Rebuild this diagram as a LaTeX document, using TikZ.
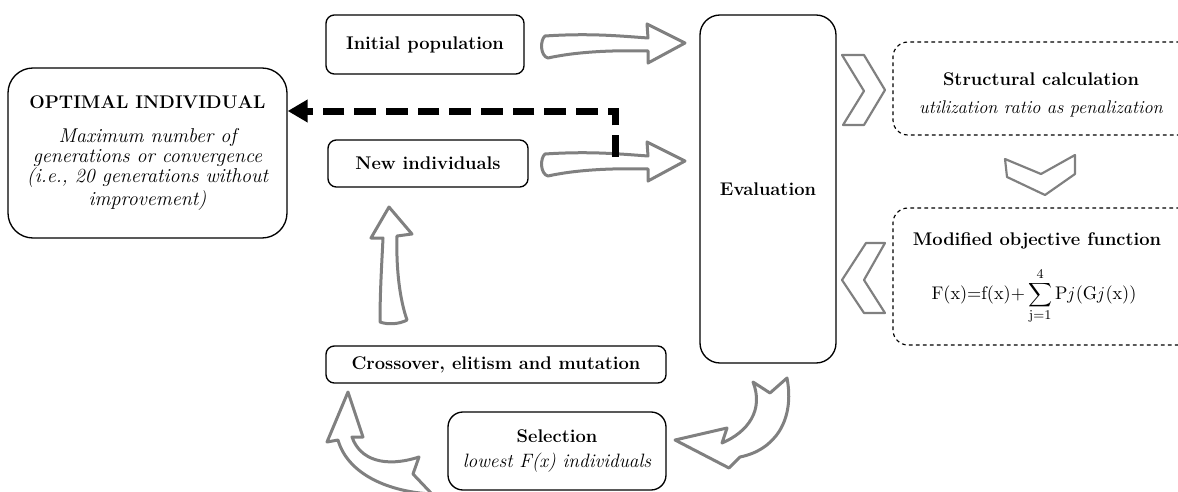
\documentclass[tikz,border=0pt]{standalone}
\usetikzlibrary{arrows.meta}
\definecolor{arrowgray}{RGB}{128,128,128}
\newcommand\optit{\fontsize{12}{11.6}\selectfont\itshape}
\newcommand\selit{\fontsize{11.6}{12}\selectfont\itshape}
\begin{document}
\begin{tikzpicture}[x=0.6pt,y=-0.6pt,
  box/.style={draw, line width=0.8pt, align=center, inner sep=0pt,
    font=\fontsize{11}{11.5}\selectfont},
  dbox/.style={draw, line width=0.7pt, dash pattern=on 2.2pt off 2pt, rounded corners=9pt, inner sep=0pt},
  txt/.style={align=center, inner sep=0pt, font=\fontsize{11}{11.5}\selectfont},
  blockarrow/.style={draw=arrowgray, line width=1.8pt, fill=white, line join=round},
  chevron/.style={draw=arrowgray, line width=1.3pt, fill=white, line join=round},
  feedback/.style={line width=4.2pt, dash pattern=on 13pt off 6pt, -{Triangle[length=12pt,width=13pt]}}
]
\useasboundingbox (0,0) rectangle (1178,492);
\clip (0,0) rectangle (1178,492);

% boxes
\node[box, rounded corners=15pt, minimum width=167.4pt, minimum height=102pt] (opt) at (147.5,153)
  {\textbf{OPTIMAL INDIVIDUAL}\\[9pt]\optit Maximum number of\\[0.6pt] \optit generations or convergence\\[0.6pt] \optit (i.e., 20 generations without\\[0.6pt] \optit improvement)};
\node[box, rounded corners=5pt, minimum width=118.8pt, minimum height=35.4pt] (init) at (425,44.5) {\textbf{Initial population}};
\node[box, rounded corners=5pt, minimum width=120pt, minimum height=28.2pt] (newind) at (428,163.5) {\textbf{New individuals}};
\node[box, rounded corners=5pt, minimum width=204pt, minimum height=22.2pt] (cross) at (496,364.5) {\textbf{Crossover, elitism and mutation}};
\node[box, rounded corners=9pt, minimum width=130.8pt, minimum height=46.8pt] (sel) at (557,451) {\textbf{Selection}\\[3pt]\selit lowest F(x) individuals};
\node[box, rounded corners=12pt, minimum width=81.6pt, minimum height=208.8pt] (eval) at (768,189) {\textbf{Evaluation}};
\node[dbox, minimum width=181.2pt, minimum height=55.8pt] (struct) at (1044,88.5) {};
\node[txt] (structtxt) at (1041,95) {\textbf{Structural calculation}\\[5pt]\itshape utilization ratio as penalization};
\node[dbox, minimum width=181.2pt, minimum height=82.2pt] (mod) at (1044,276.5) {};
\node[txt] (modtitle) at (1037,241) {\textbf{Modified objective function}};
\node[txt] (modformula) at (1034,296) {$\displaystyle \mathrm{F(x)}{=}\mathrm{f(x)}{+}\sum_{\mathrm{j}=1}^{4}\mathrm{P}\mathit{j}(\mathrm{G}\mathit{j}(\mathrm{x}))$};

% block arrows
\draw[blockarrow] (545,36) .. controls (590,33) and (620,36) .. (648,38) -- (647,24) -- (685,43) -- (648,63) -- (648,51)
  .. controls (610,50) and (575,52) .. (548,58) .. controls (540,56) and (540,40) .. cycle;
\draw[blockarrow, yshift=-118*0.6pt] (545,36) .. controls (590,33) and (620,36) .. (648,38) -- (647,24) -- (685,43) -- (648,63) -- (648,51)
  .. controls (610,50) and (575,52) .. (548,58) .. controls (540,56) and (540,40) .. cycle;
% up arrow
\draw[blockarrow] (389,207) -- (412,234) -- (397,236) .. controls (396,270) and (400,300) .. (407,320)
  .. controls (400,324) and (388,325) .. (380,322) .. controls (380,290) and (382,260) .. (383,238) -- (371,238) -- cycle;
% eval -> selection
\draw[blockarrow] (675,440) -- (727,428) -- (722,443) .. controls (748,432) and (764,410) .. (753,382)
  -- (770,393) -- (787,378) .. controls (795,420) and (775,450) .. (740,457) -- (729,468) -- cycle;
% selection -> crossover
\draw[blockarrow] (348,392) -- (363,437) -- (352,437) .. controls (360,460) and (385,468) .. (419,457)
  -- (413,474) -- (432,494) .. controls (390,492) and (348,475) .. (338,440) -- (327,442) -- cycle;

% chevrons
\draw[chevron] (842,55) -- (864,55) -- (885,90) -- (864,125) -- (843,125) -- (864,91) -- cycle;
\draw[chevron] (885,243) -- (866,243) -- (842,280) -- (864,313) -- (885,313) -- (864,280) -- cycle;
\draw[chevron] (1005,159) -- (1041,174) -- (1075,155) -- (1075,174) -- (1045,195) -- (1007,177) -- cycle;

% feedback dashed connector
\coordinate (dstart) at (615,157);
\coordinate (dcorner) at (615,111);
\draw[feedback] (dstart) -- (dcorner) -- (dcorner -| opt.east);
\end{tikzpicture}
\end{document}
